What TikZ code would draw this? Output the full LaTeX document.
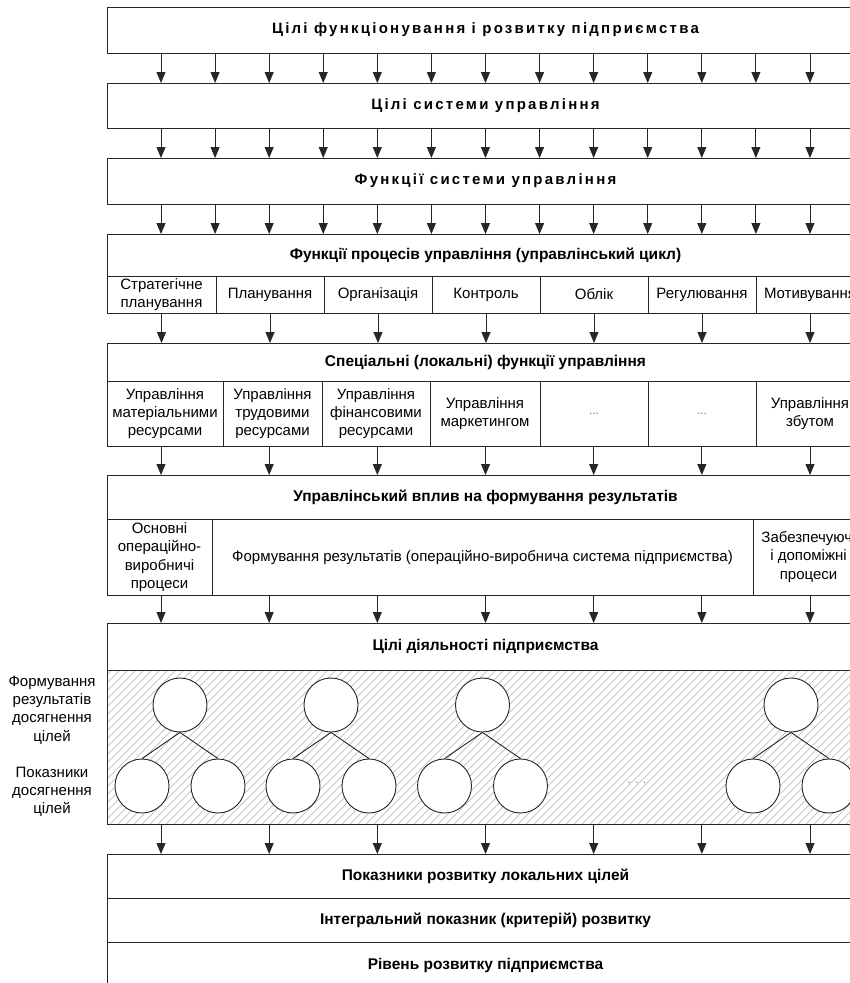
\documentclass[tikz,border=0pt]{standalone}
\usepackage{fontspec}
\setmainfont{Liberation Sans}
\newfontfamily\spacedfont[LetterSpace=15]{Liberation Sans}
\usetikzlibrary{arrows.meta}
\begin{document}
\begin{tikzpicture}[x=1pt,y=-1pt,
  box/.style={draw=black!85,line width=1pt,inner sep=0pt,outer sep=0pt,anchor=north west,align=center,fill=white},
  arr/.style={draw=black!85,line width=0.9pt,-{Triangle[width=9pt,length=11pt]}},
  reg/.style={font=\fontsize{15}{18.3}\selectfont},
  hd/.style={font=\bfseries\fontsize{15.5}{17}\selectfont},
  sp/.style={font=\spacedfont\bfseries\fontsize{15}{17}\selectfont},
  circ/.style={circle,draw=black!85,line width=0.9pt,fill=white,minimum size=54pt,inner sep=0pt},
  lnk/.style={draw=black!85,line width=0.9pt},
  dots/.style={text=black!55,font=\fontsize{12}{12}\selectfont}]
\useasboundingbox (0,0) rectangle (850,983);
\clip (0,0) rectangle (850,983);
% column coordinates
\foreach \i in {0,...,12}{\coordinate (k\i) at ({161+54.08*\i},0);}
\foreach \i in {0,...,6}{\coordinate (m\i) at ({161+108.17*\i},0);}
% top boxes
\node[box,sp,minimum width=757pt,minimum height=46pt] (b1) at (107,7) {Цілі функціонування і розвитку підприємства};
\node[box,sp,minimum width=757pt,minimum height=45pt] (b2) at (107,83) {Цілі системи управління};
\node[box,sp,minimum width=757pt,minimum height=46pt] (b3) at (107,158) {Функції системи управління};
\foreach \i in {0,...,12}{
  \draw[arr] (k\i |- b1.south) -- (k\i |- b2.north);
  \draw[arr] (k\i |- b2.south) -- (k\i |- b3.north);
}
% box 4
\node[box,hd,minimum width=757pt,minimum height=42pt] (b4) at (107,234) {Функції процесів управління (управлінський цикл)};
\foreach \i in {0,...,12}{\draw[arr] (k\i |- b3.south) -- (k\i |- b4.north);}
\node[box,reg,minimum width=109pt,minimum height=37pt] (c41) at (107,276) {Стратегічне\\планування};
\node[box,reg,minimum width=108pt,minimum height=37pt] (c42) at (216,276) {Планування};
\node[box,reg,minimum width=108pt,minimum height=37pt] (c43) at (324,276) {Організація};
\node[box,reg,minimum width=108pt,minimum height=37pt] (c44) at (432,276) {Контроль};
\node[box,reg,minimum width=108pt,minimum height=37pt] (c45) at (540,276) {Облік};
\node[box,reg,minimum width=108pt,minimum height=37pt] (c46) at (648,276) {Регулювання};
\node[box,reg,minimum width=108pt,minimum height=37pt] (c47) at (756,276) {Мотивування};
% box 5
\node[box,hd,minimum width=757pt,minimum height=38pt] (b5) at (107,343) {Спеціальні (локальні) функції управління};
\foreach \c in {c41,c42,c43,c44,c45,c46,c47}{\draw[arr] (\c.south) -- (\c.south |- b5.north);}
\node[box,reg,minimum width=116pt,minimum height=65pt] (c51) at (107,381) {Управління\\матеріальними\\ресурсами};
\node[box,reg,minimum width=99pt,minimum height=65pt] (c52) at (223,381) {Управління\\трудовими\\ресурсами};
\node[box,reg,minimum width=108pt,minimum height=65pt] (c53) at (322,381) {Управління\\фінансовими\\ресурсами};
\node[box,reg,minimum width=110pt,minimum height=65pt] (c54) at (430,381) {Управління\\маркетингом};
\node[box,dots,minimum width=108pt,minimum height=65pt] (c55) at (540,381) {...};
\node[box,dots,minimum width=108pt,minimum height=65pt] (c56) at (648,381) {...};
\node[box,reg,minimum width=108pt,minimum height=65pt] (c57) at (756,381) {Управління\\збутом};
% box 6
\node[box,hd,minimum width=757pt,minimum height=44pt] (b6) at (107,475) {Управлінський вплив на формування результатів};
\foreach \i in {0,...,6}{\draw[arr] (m\i |- c51.south) -- (m\i |- b6.north);}
\node[box,reg,minimum width=105pt,minimum height=76pt] (c61) at (107,519) {Основні\\операційно-\\виробничі\\процеси};
\node[box,reg,minimum width=541pt,minimum height=76pt] (c62) at (212,519) {Формування результатів (операційно-виробнича система підприємства)};
\node[box,reg,minimum width=111pt,minimum height=76pt] (c63) at (753,519) {Забезпечуючі\\і допоміжні\\процеси};
% box 7
\node[box,hd,minimum width=757pt,minimum height=47pt] (b7) at (107,623) {Цілі діяльності підприємства};
\foreach \i in {0,...,6}{\draw[arr] (m\i |- c61.south) -- (m\i |- b7.north);}
% hatched zone
\node[box,minimum width=757pt,minimum height=154pt] (hz) at (107,670) {};
\begin{scope}
  \clip (hz.north west) rectangle (hz.south east);
  \foreach \x in {-50,-42,...,870}{\draw[black!30,line width=0.6pt] (\x,824) -- ++(154,-154);}
\end{scope}
\draw[line width=1pt,draw=black!85] (hz.north west) rectangle (hz.south east);
% trees
\foreach \n/\x in {1/180,2/331,3/482.5,4/791}{
  \node[circ] (t\n) at (\x,705) {};
  \node[circ] (t\n a) at (\x-38,786) {};
  \node[circ] (t\n b) at (\x+38,786) {};
  \draw[lnk] (t\n.south) -- (t\n a.north);
  \draw[lnk] (t\n.south) -- (t\n b.north);
}
\node[dots] (hd1) at (637,783) {. . .};
% left labels
\node[reg,align=center] (lab1) at (52,710) {Формування\\результатів\\досягнення\\цілей};
\node[reg,align=center] (lab2) at (52,792) {Показники\\досягнення\\цілей};
% bottom boxes
\node[box,hd,minimum width=757pt,minimum height=44pt] (b8) at (107,854) {Показники розвитку локальних цілей};
\foreach \i in {0,...,6}{\draw[arr] (m\i |- hz.south) -- (m\i |- b8.north);}
\node[box,hd,minimum width=757pt,minimum height=44pt] (b9) at (107,898) {Інтегральний показник (критерій) розвитку};
\node[box,hd,minimum width=757pt,minimum height=46pt] (b10) at (107,942) {Рівень розвитку підприємства};
\end{tikzpicture}
\end{document}
